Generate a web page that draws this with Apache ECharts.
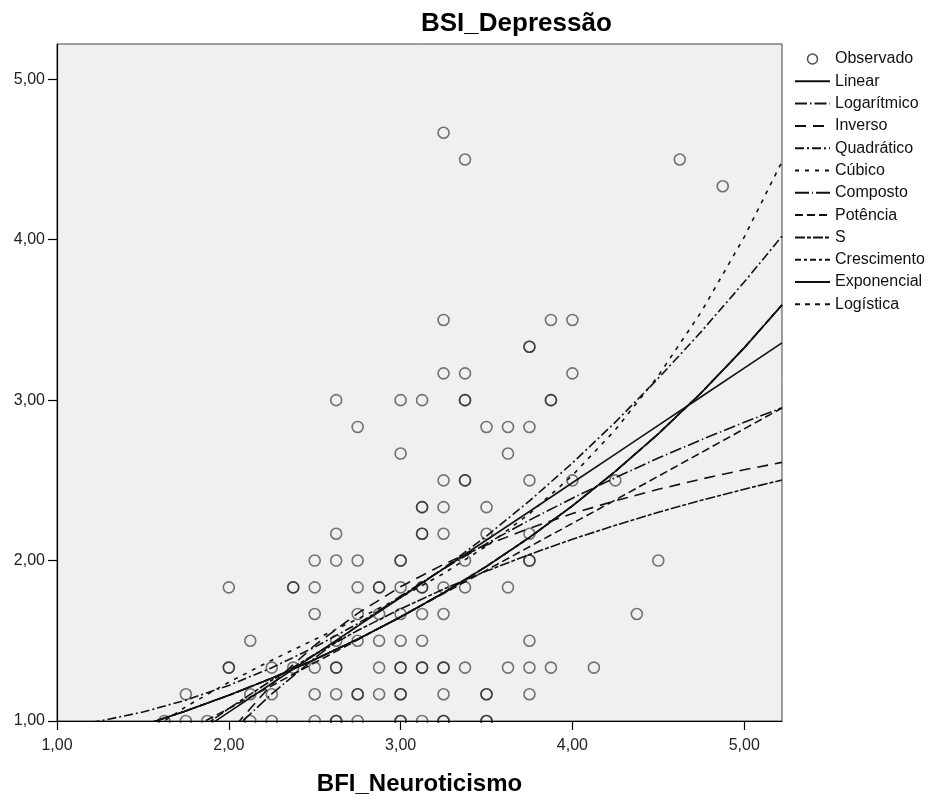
<!DOCTYPE html>
<html>
<head>
<meta charset="utf-8">
<title>BSI_Depressão</title>
<script src="https://cdn.jsdelivr.net/npm/echarts@6/dist/echarts.min.js"></script>
<style>
  html, body { margin: 0; padding: 0; background: #fff; }
  #chart { width: 934px; height: 801px; }
</style>
</head>
<body>
<div id="chart"></div>
<script>
// observados: BFI_Neuroticismo (x) x BSI_Depressão (y)
var obsX = [
  1.625, 1.75, 1.875, 2.125, 2.25, 2.5, 2.625, 2.625, 2.75, 3.0, 3.0, 3.125, 3.25, 3.25, 3.5, 3.5,
  1.75, 2.125, 2.25, 2.5, 2.625, 2.75, 2.75, 2.875, 3.0, 3.0, 3.25, 3.5, 3.5, 3.75,
  2.0, 2.0, 2.25, 2.375, 2.5, 2.625, 2.625, 2.875, 3.0, 3.0, 3.125, 3.125, 3.25, 3.25, 3.375, 3.625, 3.75, 3.875, 4.125,
  2.125, 2.625, 2.75, 2.875, 3.0, 3.125, 3.75,
  2.5, 2.75, 2.875, 3.0, 3.125, 3.25, 4.375,
  2.0, 2.375, 2.375, 2.5, 2.75, 2.875, 2.875, 3.0, 3.125, 3.125, 3.25, 3.375, 3.625,
  2.5, 2.625, 2.75, 3.0, 3.0, 3.375, 3.75, 3.75, 4.5,
  2.625, 3.125, 3.125, 3.25, 3.5, 3.75,
  3.125, 3.125, 3.25, 3.5,
  3.25, 3.375, 3.375, 3.75, 4.0, 4.25,
  3.0, 3.625,
  2.75, 3.5, 3.625, 3.75,
  2.625, 3.0, 3.125, 3.375, 3.375, 3.875, 3.875,
  3.25, 3.375, 4.0,
  3.75, 3.75,
  3.25, 3.875, 4.0,
  4.875,
  3.375, 4.625,
  3.25
];
var obsY = [
  1, 1, 1, 1, 1, 1, 1, 1, 1, 1, 1, 1, 1, 1, 1, 1,
  1.167, 1.167, 1.167, 1.167, 1.167, 1.167, 1.167, 1.167, 1.167, 1.167, 1.167, 1.167, 1.167, 1.167,
  1.333, 1.333, 1.333, 1.333, 1.333, 1.333, 1.333, 1.333, 1.333, 1.333, 1.333, 1.333, 1.333, 1.333, 1.333, 1.333, 1.333, 1.333, 1.333,
  1.5, 1.5, 1.5, 1.5, 1.5, 1.5, 1.5,
  1.667, 1.667, 1.667, 1.667, 1.667, 1.667, 1.667,
  1.833, 1.833, 1.833, 1.833, 1.833, 1.833, 1.833, 1.833, 1.833, 1.833, 1.833, 1.833, 1.833,
  2, 2, 2, 2, 2, 2, 2, 2, 2,
  2.167, 2.167, 2.167, 2.167, 2.167, 2.167,
  2.333, 2.333, 2.333, 2.333,
  2.5, 2.5, 2.5, 2.5, 2.5, 2.5,
  2.667, 2.667,
  2.833, 2.833, 2.833, 2.833,
  3, 3, 3, 3, 3, 3, 3,
  3.167, 3.167, 3.167,
  3.333, 3.333,
  3.5, 3.5, 3.5,
  4.333,
  4.5, 4.5,
  4.667
];

var curveX       = [1.0, 1.25, 1.5, 1.75, 2.0, 2.25, 2.5, 2.75, 3.0, 3.25, 3.5, 3.75, 4.0, 4.25, 4.5, 4.75, 5.0, 5.22];
var linearY      = [0.340, 0.519, 0.698, 0.876, 1.055, 1.234, 1.413, 1.591, 1.770, 1.949, 2.128, 2.306, 2.485, 2.664, 2.843, 3.021, 3.200, 3.357];
var logY         = [-0.550, -0.077, 0.310, 0.636, 0.919, 1.169, 1.393, 1.595, 1.779, 1.949, 2.106, 2.252, 2.389, 2.517, 2.639, 2.753, 2.862, 2.953];
var inverseY     = [-1.810, -0.716, 0.013, 0.534, 0.925, 1.229, 1.472, 1.671, 1.837, 1.977, 2.097, 2.201, 2.293, 2.373, 2.444, 2.508, 2.566, 2.612];
var quadraticY   = [0.963, 1.000, 1.056, 1.130, 1.222, 1.332, 1.460, 1.606, 1.770, 1.952, 2.153, 2.372, 2.608, 2.863, 3.136, 3.427, 3.736, 4.022];
var cubicY       = [0.454, 0.702, 0.911, 1.089, 1.242, 1.379, 1.508, 1.636, 1.770, 1.919, 2.091, 2.292, 2.531, 2.815, 3.152, 3.550, 4.016, 4.487];
var compoundY    = [0.817, 0.892, 0.973, 1.063, 1.160, 1.267, 1.383, 1.510, 1.648, 1.799, 1.964, 2.144, 2.341, 2.556, 2.790, 3.046, 3.326, 3.593];
var powerY       = [0.521, 0.658, 0.797, 0.937, 1.078, 1.220, 1.363, 1.506, 1.650, 1.795, 1.940, 2.086, 2.232, 2.378, 2.526, 2.673, 2.821, 2.951];
var sY           = [0.275, 0.475, 0.684, 0.887, 1.078, 1.254, 1.416, 1.564, 1.699, 1.822, 1.935, 2.038, 2.133, 2.220, 2.301, 2.376, 2.445, 2.502];
var growthY      = [0.817, 0.892, 0.973, 1.063, 1.160, 1.267, 1.383, 1.510, 1.648, 1.799, 1.964, 2.144, 2.341, 2.556, 2.790, 3.046, 3.326, 3.593];
var exponentialY = [0.817, 0.892, 0.973, 1.063, 1.160, 1.267, 1.383, 1.510, 1.648, 1.799, 1.964, 2.144, 2.341, 2.556, 2.790, 3.046, 3.326, 3.593];
var logisticY    = [0.817, 0.892, 0.973, 1.063, 1.160, 1.267, 1.383, 1.510, 1.648, 1.799, 1.964, 2.144, 2.341, 2.556, 2.790, 3.046, 3.326, 3.593];

var xTicks = [1, 2, 3, 4, 5];
var yTicks = [1, 2, 3, 4, 5];

var FONT = "'Liberation Sans', Arial, sans-serif";

function fmt(v) {
  return v.toFixed(2).replace('.', ',');
}

var curves = [
  { name: 'Linear',      y: linearY,      dash: 'solid' },
  { name: 'Logarítmico', y: logY,         dash: [12, 3, 1.5, 3] },
  { name: 'Inverso',     y: inverseY,     dash: [11, 7] },
  { name: 'Quadrático',  y: quadraticY,   dash: [9, 3, 2, 3] },
  { name: 'Cúbico',      y: cubicY,       dash: [4, 6] },
  { name: 'Composto',    y: compoundY,    dash: [14, 3, 1, 3] },
  { name: 'Potência',    y: powerY,       dash: [8, 4] },
  { name: 'S',           y: sY,           dash: [10, 2, 4, 2] },
  { name: 'Crescimento', y: growthY,      dash: [6, 3, 3, 3] },
  { name: 'Exponencial', y: exponentialY, dash: 'solid' },
  { name: 'Logística',   y: logisticY,    dash: [5, 5] }
];

var series = [{
  name: 'Observado',
  type: 'scatter',
  symbol: 'circle',
  symbolSize: 11,
  z: 2,
  silent: true,
  itemStyle: { color: 'rgba(0,0,0,0)', borderColor: 'rgba(20,20,20,0.72)', borderWidth: 1.6 },
  data: obsX.map(function (x, i) { return [x, obsY[i]]; })
}];

curves.forEach(function (c) {
  series.push({
    name: c.name,
    type: 'line',
    smooth: false,
    symbol: 'none',
    clip: true,
    z: 3,
    silent: true,
    itemStyle: { color: 'rgba(0,0,0,0)' },
    lineStyle: { color: '#111', width: 1.6, type: c.dash },
    data: curveX.map(function (x, i) { return [x, c.y[i]]; })
  });
});

var legendData = [{
  name: 'Observado',
  icon: 'circle',
  itemStyle: { color: 'rgba(0,0,0,0)', borderColor: '#222', borderWidth: 1.5 }
}].concat(curves.map(function (c) {
  return { name: c.name, itemStyle: { color: 'rgba(0,0,0,0)', borderWidth: 0 } };
}));

var chart = echarts.init(document.getElementById('chart'));
chart.setOption({
  animation: false,
  backgroundColor: '#fff',
  title: {
    text: 'BSI_Depressão',
    left: 416,
    top: 6,
    textStyle: { fontFamily: FONT, fontSize: 26, fontWeight: 'bold', color: '#000' }
  },
  legend: {
    orient: 'vertical',
    left: 794,
    top: 51,
    padding: 0,
    itemWidth: 35,
    itemHeight: 10,
    itemGap: 6.3,
    selectedMode: false,
    textStyle: { fontFamily: FONT, fontSize: 16, lineHeight: 16, color: '#111' },
    data: legendData
  },
  grid: {
    left: 57, top: 44, right: 152, bottom: 79,
    show: true,
    backgroundColor: '#f0f0f0',
    borderColor: '#444',
    borderWidth: 1
  },
  xAxis: {
    type: 'value',
    min: 1, max: 5.22,
    z: 10,
    name: 'BFI_Neuroticismo',
    nameLocation: 'middle',
    nameGap: 51,
    nameTextStyle: { fontFamily: FONT, fontSize: 24, fontWeight: 'bold', color: '#000' },
    axisLine: { lineStyle: { color: '#000', width: 1.2 } },
    axisTick: { length: 9, customValues: xTicks, lineStyle: { color: '#000', width: 1.2 } },
    axisLabel: {
      customValues: xTicks, margin: 17,
      fontFamily: FONT, fontSize: 16, color: '#222',
      formatter: fmt
    },
    splitLine: { show: false }
  },
  yAxis: {
    type: 'value',
    min: 1, max: 5.22,
    z: 10,
    axisLine: { show: true, lineStyle: { color: '#000', width: 1.2 } },
    axisTick: { show: true, length: 9, customValues: yTicks, lineStyle: { color: '#000', width: 1.2 } },
    axisLabel: {
      customValues: yTicks, margin: 12,
      fontFamily: FONT, fontSize: 16, color: '#222',
      formatter: fmt
    },
    splitLine: { show: false }
  },
  graphic: [{
    type: 'rect',
    z: 5,
    silent: true,
    shape: { x: 0, y: 723, width: 934, height: 78 },
    style: { fill: '#fff' }
  }],
  series: series
});
</script>
</body>
</html>
